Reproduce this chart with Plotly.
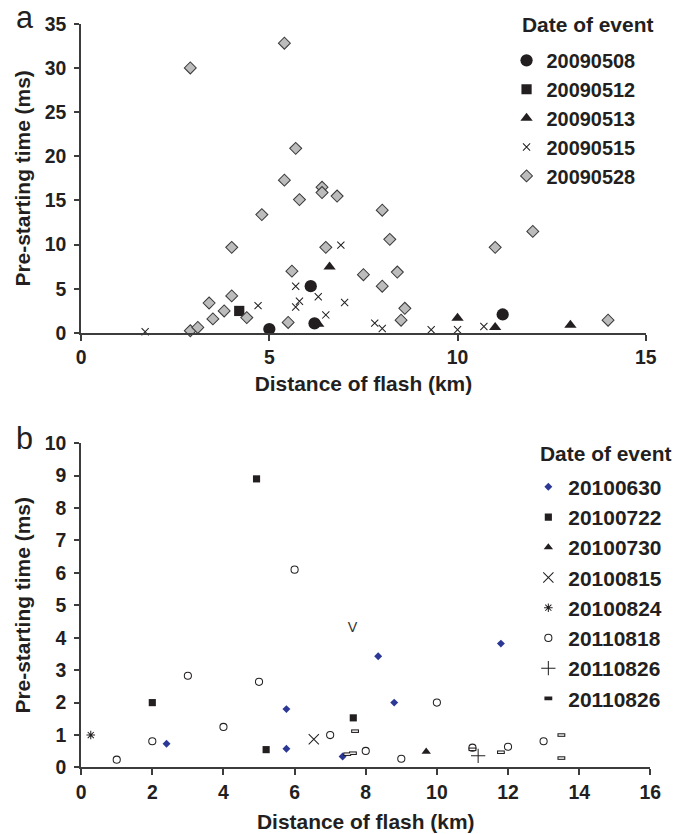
import plotly.graph_objects as go

# ---------------- Panel a data ----------------
a_names = ["20090508", "20090512", "20090513", "20090515", "20090528"]
a_0508_x = [5.0, 6.1, 6.2, 11.2]
a_0508_y = [0.45, 5.3, 1.1, 2.1]
a_0512_x = [4.2]
a_0512_y = [2.5]
a_0513_x = [6.6, 6.3, 10.0, 11.0, 13.0]
a_0513_y = [7.5, 1.0, 1.7, 0.65, 0.9]
a_0515_x = [1.7, 4.7, 5.7, 5.7, 5.8, 6.3, 6.5, 6.9, 7.0, 7.8, 8.0, 9.3, 10.0, 10.7]
a_0515_y = [0.15, 3.1, 5.3, 2.95, 3.6, 4.1, 2.05, 9.95, 3.45, 1.12, 0.52, 0.37, 0.37, 0.74]
a_0528_x = [2.9, 5.4, 5.7, 5.4, 5.8, 6.4, 6.4, 6.8, 4.8, 4.0, 6.5, 5.6, 4.0, 3.4, 3.8,
            3.5, 4.4, 5.5, 2.9, 3.1, 8.0, 8.2, 11.0, 12.0, 7.5, 8.0, 8.4, 8.6, 8.5, 14.0]
a_0528_y = [30.0, 32.8, 20.9, 17.3, 15.1, 16.5, 15.9, 15.5, 13.4, 9.7, 9.7, 7.0, 4.2, 3.4, 2.5,
            1.6, 1.75, 1.2, 0.26, 0.63, 13.9, 10.6, 9.7, 11.5, 6.6, 5.3, 6.9, 2.8, 1.45, 1.45]
a_xticks = [0, 5, 10, 15]
a_yticks = [0, 5, 10, 15, 20, 25, 30, 35]

# ---------------- Panel b data ----------------
b_names = ["20100630", "20100722", "20100730", "20100815", "20100824",
           "20110818", "20110826", "20110826"]
b_0630_x = [2.4, 5.77, 5.77, 7.35, 8.35, 8.8, 11.8]
b_0630_y = [0.73, 1.8, 0.58, 0.34, 3.43, 2.0, 3.82]
b_0722_x = [4.93, 2.0, 5.2, 7.65]
b_0722_y = [8.9, 2.0, 0.55, 1.53]
b_0730_x = [9.7]
b_0730_y = [0.49]
b_0815_x = [6.54]
b_0815_y = [0.87]
b_0824_x = [0.27]
b_0824_y = [1.0]
b_0818_x = [1, 2, 3, 4, 5, 6, 7, 8, 9, 10, 11, 12, 13]
b_0818_y = [0.24, 0.81, 2.83, 1.25, 2.64, 6.1, 1.0, 0.51, 0.27, 2.0, 0.61, 0.64, 0.81]
b_0826a_x = [11.16]
b_0826a_y = [0.36]
b_0826b_x = [7.7, 7.48, 7.64, 11.0, 11.8, 13.5, 13.5]
b_0826b_y = [1.12, 0.41, 0.44, 0.56, 0.47, 1.0, 0.29]
b_xticks = [0, 2, 4, 6, 8, 10, 12, 14, 16]
b_yticks = list(range(0, 11))
b_note_x = [7.63]
b_note_y = [4.3]
b_note_text = ["V"]

# Page geometry: the page body keeps an 8px margin and the captured window is
# slightly larger than the final picture, so layout positions are expressed in
# target-picture pixels and converted here.
OFF = 8
KX, KY = 701 / 685, 850 / 834
K = (KX + KY) / 2
FW, FH = 693, 842
INK = "#231f20"
AX = "#3c3c3c"
FONT = "Arial, Liberation Sans, sans-serif"


def px(x):
    return (x * KX - OFF) / FW


def py(y):
    return 1 - (y * KY - OFF) / FH


def s(v):
    return v * K


fig = go.Figure()


def add(x, y, name, symbol, size, color, lcolor, lwidth, legend, xa, ya, group, showlegend=True):
    fig.add_trace(go.Scatter(
        x=x, y=y, mode="markers", name=name, legend=legend, legendgroup=group,
        showlegend=showlegend, xaxis=xa, yaxis=ya, cliponaxis=False,
        marker=dict(symbol=symbol, size=s(size), color=color,
                    line=dict(color=lcolor, width=s(lwidth)))))


# panel a traces
add(a_0508_x, a_0508_y, a_names[0], "circle", 12, INK, INK, 0, "legend", "x", "y", "a1")
add(a_0512_x, a_0512_y, a_names[1], "square", 10, INK, INK, 0, "legend", "x", "y", "a2")
add(a_0513_x, a_0513_y, a_names[2], "triangle-up", 10.5, INK, INK, 0, "legend", "x", "y", "a3")
add(a_0515_x, a_0515_y, a_names[3], "x-thin-open", 7, INK, INK, 1, "legend", "x", "y", "a4")
add(a_0528_x, a_0528_y, a_names[4], "diamond", 9, "#bcbcbc", "#3a3a3a", 1, "legend", "x", "y", "a5")

# panel b traces
add(b_0630_x, b_0630_y, b_names[0], "diamond", 6, "#2b3896", "#2b3896", 0, "legend2", "x2", "y2", "b1")
add(b_0722_x, b_0722_y, b_names[1], "square", 7, INK, INK, 0, "legend2", "x2", "y2", "b2")
add(b_0730_x, b_0730_y, b_names[2], "triangle-up", 8, INK, INK, 0, "legend2", "x2", "y2", "b3")
add(b_0815_x, b_0815_y, b_names[3], "x-thin-open", 10, INK, "#333333", 1, "legend2", "x2", "y2", "b4")
add(b_0824_x, b_0824_y, b_names[4], "asterisk-open", 7, INK, "#333333", 1, "legend2", "x2", "y2", "b5")
add(b_0818_x, b_0818_y, b_names[5], "circle-open", 7, INK, "#333333", 1, "legend2", "x2", "y2", "b6")
add(b_0826a_x, b_0826a_y, b_names[6], "cross-thin-open", 10, INK, "#333333", 1, "legend2", "x2", "y2", "b7")
add(b_0826b_x, b_0826b_y, b_names[7], "line-ew-open", 5.5, INK, "#333333", 3.5, "legend2", "x2", "y2", "b8")
add(b_0826b_x, b_0826b_y, b_names[7], "line-ew-open", 4, "white", "white", 1.4, "legend2", "x2", "y2", "b8", showlegend=False)

fig.add_trace(go.Scatter(x=b_note_x, y=b_note_y, mode="text", text=b_note_text,
                         textfont=dict(family=FONT, size=s(14), color="#333333"),
                         showlegend=False, xaxis="x2", yaxis="y2", cliponaxis=False))

tickfont = dict(family=FONT, size=s(19), color=INK, weight="bold")
titlefont = dict(family=FONT, size=s(20.5), color=INK, weight="bold")


def xax(domain, rng, ticks, anchor, standoff):
    return dict(domain=domain, range=rng, tickvals=ticks, showline=True, linecolor=AX,
                linewidth=s(1.5), ticks="outside", ticklen=s(6), tickwidth=s(1.5), tickcolor=AX,
                showgrid=False, zeroline=False, tickfont=tickfont, anchor=anchor,
                title=dict(text="Distance of flash (km)", font=titlefont, standoff=s(standoff)))


def yax(domain, rng, ticks, anchor):
    return dict(domain=domain, range=rng, tickvals=ticks, showline=True, linecolor=AX,
                linewidth=s(1.5), ticks="outside", ticklen=s(5), tickwidth=s(1.5), tickcolor=AX,
                showgrid=False, zeroline=False, tickfont=tickfont, anchor=anchor,
                ticklabelstandoff=4,
                title=dict(text="Pre-starting time (ms)", font=titlefont, standoff=s(8)))


legfont_a = dict(family=FONT, size=s(19.5), color=INK, weight="bold")
legfont_b = dict(family=FONT, size=s(20.5), color=INK, weight="bold")
ttlfont = dict(family=FONT, size=s(20.5), color=INK, weight="bold")

fig.update_layout(
    width=FW, height=FH, margin=dict(l=0, r=0, t=0, b=0),
    paper_bgcolor="white", plot_bgcolor="white",
    xaxis=xax([px(84), px(648.7)], [0, 15], a_xticks, "y", 8.5),
    yaxis=yax([py(332.3), py(20.7)], [0, 35], a_yticks, "x"),
    xaxis2=xax([px(84), px(653.3)], [0, 16], b_xticks, "y2", 12),
    yaxis2=yax([py(770), py(443.3)], [0, 10], b_yticks, "x2"),
    legend=dict(x=px(509.5), y=py(38), xanchor="left", yanchor="top", font=legfont_a,
                bgcolor="rgba(0,0,0,0)", tracegroupgap=0, itemsizing="trace"),
    legend2=dict(x=px(531.3), y=py(467), xanchor="left", yanchor="top", font=legfont_b,
                 bgcolor="rgba(0,0,0,0)", tracegroupgap=0, itemsizing="trace"),
    annotations=[
        dict(text="a", x=px(17), y=py(-5), xref="paper", yref="paper", xanchor="left",
             yanchor="top", showarrow=False, font=dict(family=FONT, size=s(30), color=INK)),
        dict(text="b", x=px(17), y=py(419), xref="paper", yref="paper", xanchor="left",
             yanchor="top", showarrow=False, font=dict(family=FONT, size=s(30), color=INK)),
        dict(text="Date of event", x=px(522.7), y=py(21), xref="paper", yref="paper",
             xanchor="left", yanchor="middle", showarrow=False, font=ttlfont),
        dict(text="Date of event", x=px(540.7), y=py(454), xref="paper", yref="paper",
             xanchor="left", yanchor="middle", showarrow=False, font=ttlfont),
    ],
)

fig.write_html("out.html")
